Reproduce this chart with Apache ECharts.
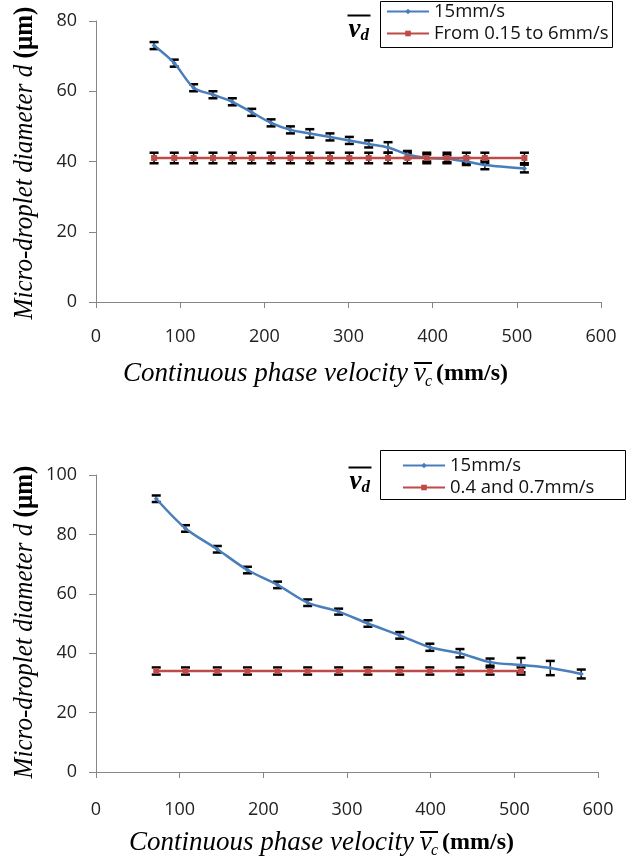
<!DOCTYPE html>
<html>
<head>
<meta charset="utf-8">
<script src="https://cdn.jsdelivr.net/npm/echarts@6/dist/echarts.min.js"></script>
<style>
  html, body { margin: 0; padding: 0; background: #fff; }
  #chart { width: 634px; height: 861px; }
</style>
</head>
<body>
<div id="chart"></div>
<script>
// top chart
const vcTop = [69, 93, 116, 139, 162, 185, 208, 231, 254, 278, 301, 324, 347, 370, 393, 417, 440, 462, 509];
const dTopFast = [73, 68, 61, 59, 57, 54, 51, 49, 48, 47, 46, 45, 44, 42, 41, 40.8, 40, 39, 38];
const errTopFast = [1, 1, 1, 1, 1, 1, 1, 1, 1.2, 1, 1, 1, 1.5, 1, 1, 1, 1, 1.2, 1.1];
const dTopSlow = [41, 41, 41, 41, 41, 41, 41, 41, 41, 41, 41, 41, 41, 41, 41, 41, 41, 41, 41];
const errTopSlow = [1.5, 1.5, 1.5, 1.5, 1.5, 1.5, 1.5, 1.5, 1.5, 1.5, 1.5, 1.5, 1.5, 1.5, 1.5, 1.5, 1.5, 1.5, 1.5];
const namesTop = ['15mm/s', 'From 0.15 to 6mm/s'];

// bottom chart
const vcBot = [72, 107, 145, 181, 217, 253, 290, 325, 363, 399, 435, 471, 508, 543, 580];
const dBotFast = [92, 82, 75, 68, 63, 57, 54, 50, 46, 42, 40, 37, 36, 35, 33];
const errBotFast = [1.1, 1.1, 1.1, 1.1, 1.1, 1.1, 1, 1.1, 1.1, 1.2, 1.4, 1.2, 2.4, 2.4, 1.5];
const vcBotSlow = [72, 107, 145, 181, 217, 253, 290, 325, 363, 399, 435, 471, 508];
const dBotSlow = [34, 34, 34, 34, 34, 34, 34, 34, 34, 34, 34, 34, 34];
const errBotSlow = [1.2, 1.2, 1.2, 1.2, 1.2, 1.2, 1.2, 1.2, 1.2, 1.2, 1.2, 1.2, 1.2];
const namesBot = ['15mm/s', '0.4 and 0.7mm/s'];

const yMaxTop = 80, yMaxBot = 100, xMax = 600;

const BLUE = '#4a7ebb', RED = '#be4b48';
const SANS = 'Open Sans';
const SERIF = 'Liberation Serif';

function pairs(xs, ys) { return xs.map((x, i) => [x, ys[i]]); }
function triples(xs, ys, es) { return xs.map((x, i) => [x, ys[i], es[i]]); }

function renderErr(params, api) {
    const x = api.value(0), y = api.value(1), e = api.value(2);
    const hi = api.coord([x, y + e]);
    const lo = api.coord([x, y - e]);
    const w = 4.5;
    return {
        type: 'group',
        children: [
            { type: 'line', shape: { x1: hi[0], y1: hi[1], x2: lo[0], y2: lo[1] }, style: { stroke: '#000', lineWidth: 1.5 } },
            { type: 'line', shape: { x1: hi[0] - w, y1: hi[1], x2: hi[0] + w, y2: hi[1] }, style: { stroke: '#000', lineWidth: 2.5 } },
            { type: 'line', shape: { x1: lo[0] - w, y1: lo[1], x2: lo[0] + w, y2: lo[1] }, style: { stroke: '#000', lineWidth: 2.5 } }
        ]
    };
}

function xAxisCfg(gi, margin) {
    return {
        type: 'value', gridIndex: gi, min: 0, max: xMax, interval: 100,
        axisLine: { show: true, lineStyle: { color: '#868686', width: 1 } },
        axisTick: { show: true, inside: false, length: 6, lineStyle: { color: '#868686' } },
        axisLabel: { fontSize: 18, fontFamily: SANS, color: '#222', margin: margin },
        splitLine: { show: false }
    };
}
function yAxisCfg(gi, max) {
    return {
        type: 'value', gridIndex: gi, min: 0, max: max, interval: 20,
        axisLine: { show: true, lineStyle: { color: '#868686', width: 1 } },
        axisTick: { show: true, length: 7, lineStyle: { color: '#868686' } },
        axisLabel: { fontSize: 18, fontFamily: SANS, color: '#222', margin: 19 },
        splitLine: { show: false }
    };
}

function lineSeries(name, gi, data, color, symbol, size) {
    return {
        name: name, type: 'line', xAxisIndex: gi, yAxisIndex: gi,
        data: data, smooth: 0.3, z: 3,
        symbol: symbol, symbolSize: size, showSymbol: true,
        lineStyle: { color: color, width: 2.5 },
        itemStyle: { color: color }
    };
}
function errSeries(gi, data) {
    return {
        type: 'custom', xAxisIndex: gi, yAxisIndex: gi, z: 2,
        renderItem: renderErr, data: data,
        encode: { x: 0, y: 1 }, silent: true
    };
}

// legend border is drawn as a graphic rect so its size can follow the picture
function legendCfg(left, top, gap, names) {
    return {
        orient: 'vertical', left: left, top: top,
        borderWidth: 0, padding: 0, itemGap: gap,
        itemWidth: 42, itemHeight: 7,
        textStyle: { fontSize: 18.5, fontFamily: SANS, color: '#111' },
        data: names
    };
}

// v-bar with subscript, drawn by hand (overline)
function vBar(x, y, sub) {
    return {
        type: 'group', left: x, top: y,
        children: [
            { type: 'line', shape: { x1: 0, y1: 0, x2: 23, y2: 0 }, style: { stroke: '#000', lineWidth: 2 } },
            { type: 'text', x: 1, y: 1, style: { text: 'v', font: 'italic bold 27px ' + SERIF, fill: '#000' } },
            { type: 'text', x: 13, y: 12, style: { text: sub, font: 'italic bold 17px ' + SERIF, fill: '#000' } }
        ]
    };
}

function xTitle(rightX, cy) {
    return [
        { type: 'text', x: rightX, y: cy, style: { text: 'Continuous phase velocity', font: 'italic 27px ' + SERIF, fill: '#000', textAlign: 'right', textVerticalAlign: 'middle' } },
        { type: 'line', shape: { x1: rightX + 6, y1: cy - 11, x2: rightX + 24, y2: cy - 11 }, style: { stroke: '#000', lineWidth: 2 } },
        { type: 'text', x: rightX + 6, y: cy, style: { text: 'v', font: 'italic 27px ' + SERIF, fill: '#000', textVerticalAlign: 'middle' } },
        { type: 'text', x: rightX + 17, y: cy + 8, style: { text: 'c', font: 'italic 16px ' + SERIF, fill: '#000', textVerticalAlign: 'middle' } },
        { type: 'text', x: rightX + 28, y: cy, style: { text: '(mm/s)', font: 'bold 24px ' + SERIF, fill: '#000', textVerticalAlign: 'middle' } }
    ];
}

function yTitle(cx, cy) {
    return {
        type: 'text', x: cx, y: cy, rotation: Math.PI / 2, scaleX: 0.93,
        style: {
            text: '{a|Micro-droplet diameter d }{b|(μm)}',
            textAlign: 'center', textVerticalAlign: 'middle',
            rich: {
                a: { font: 'italic 27px ' + SERIF, fill: '#000' },
                b: { font: 'bold 27px ' + SERIF, fill: '#000' }
            }
        }
    };
}

const chart = echarts.init(document.getElementById('chart'), null, { renderer: 'canvas' });

const option = {
    backgroundColor: '#fff',
    animation: false,
    grid: [
        { left: 96, top: 21, width: 505, height: 281 },
        { left: 96, top: 475, width: 502, height: 297 }
    ],
    xAxis: [xAxisCfg(0, 26), xAxisCfg(1, 29)],
    yAxis: [yAxisCfg(0, yMaxTop), yAxisCfg(1, yMaxBot)],
    legend: [legendCfg(386, 2, 3, namesTop), legendCfg(402, 456, 3, namesBot)],
    graphic: [
        { type: 'rect', shape: { x: 380.5, y: 1.5, width: 232, height: 46 }, style: { fill: 'none', stroke: '#000', lineWidth: 1 } },
        { type: 'rect', shape: { x: 380.5, y: 450.5, width: 245, height: 49 }, style: { fill: 'none', stroke: '#000', lineWidth: 1 } },
        vBar(345, 13, 'd'),
        vBar(346, 465, 'd'),
        ...xTitle(408, 374),
        ...xTitle(414, 843),
        yTitle(25, 163),
        yTitle(25, 622)
    ],
    series: [
        errSeries(0, triples(vcTop, dTopSlow, errTopSlow)),
        errSeries(0, triples(vcTop, dTopFast, errTopFast)),
        lineSeries(namesTop[0], 0, pairs(vcTop, dTopFast), BLUE, 'diamond', 5),
        lineSeries(namesTop[1], 0, pairs(vcTop, dTopSlow), RED, 'rect', 6),
        errSeries(1, triples(vcBotSlow, dBotSlow, errBotSlow)),
        errSeries(1, triples(vcBot, dBotFast, errBotFast)),
        lineSeries(namesBot[0], 1, pairs(vcBot, dBotFast), BLUE, 'diamond', 5),
        lineSeries(namesBot[1], 1, pairs(vcBotSlow, dBotSlow), RED, 'rect', 6)
    ]
};

chart.setOption(option);
</script>
</body>
</html>
